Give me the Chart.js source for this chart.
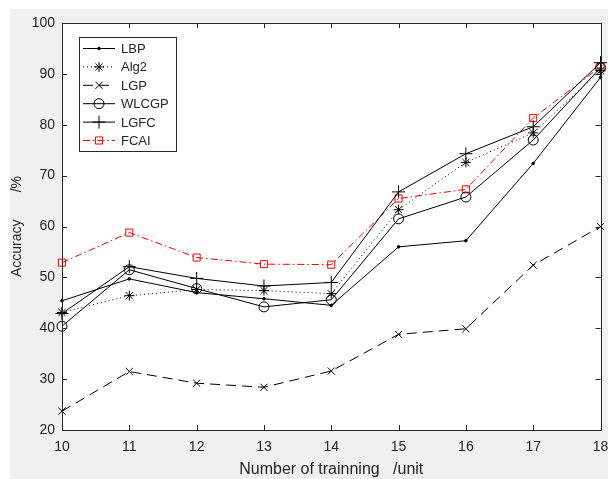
<!DOCTYPE html>
<html lang="en">
<head>
    <meta charset="UTF-8">
    <title>Accuracy</title>
    <script src="https://cdn.jsdelivr.net/npm/chart.js@4.4.1/dist/chart.umd.min.js"></script>
    <style>
        html, body { margin: 0; padding: 0; background: #f0f0f0; overflow: hidden; }
        #mychart { display: block; }
    </style>
</head>
<body>
    <canvas id="mychart" width="608" height="479"></canvas>
    <script>
        // x categories
        var trainNum = ['10', '11', '12', '13', '14', '15', '16', '17', '18'];
        var yTicks = [20, 30, 40, 50, 60, 70, 80, 90, 100];

        // series values
        var lbp   = [45.4, 49.7, 47.0, 45.8, 44.5, 56.0, 57.2, 72.4, 89.3];
        var alg2  = [43.1, 46.4, 47.6, 47.4, 46.8, 63.3, 72.6, 78.4, 90.6];
        var lgp   = [23.7, 31.5, 29.2, 28.4, 31.6, 38.8, 39.9, 52.4, 60.0];
        var wlcgp = [40.4, 51.5, 47.8, 44.2, 45.6, 61.5, 65.8, 77.0, 91.2];
        var lgfc  = [42.9, 52.1, 49.8, 48.3, 49.0, 66.8, 74.3, 79.6, 92.2];
        var fcai  = [52.9, 58.8, 53.9, 52.6, 52.5, 65.5, 67.3, 81.3, 91.4];

        var txtColor = '#262626';
        var fontFam = '"Liberation Sans", Arial, sans-serif';

        function ds(label, data, color, dash, style, radius, width) {
            return {
                label: label,
                data: data,
                borderColor: color,
                borderWidth: 1,
                borderDash: dash,
                pointStyle: style,
                pointRadius: radius,
                pointHoverRadius: radius,
                pointBorderColor: color,
                pointBackgroundColor: style == 'circle' && radius < 2 ? color : 'rgba(0,0,0,0)',
                pointBorderWidth: width,
                tension: 0,
                clip: false
            };
        }

        // gray figure, white axes, box and inward ticks like matlab
        var boxPlugin = {
            id: 'box',
            beforeDraw: function (chart) {
                var a = chart.chartArea, c = chart.ctx;
                c.save();
                c.fillStyle = '#ffffff';
                c.fillRect(0, 0, chart.width, 9);
                c.fillRect(0, 0, 10, chart.height);
                c.fillStyle = '#f0f0f0';
                c.fillRect(10, 9, chart.width - 10, chart.height - 9);
                c.fillStyle = '#ffffff';
                c.fillRect(a.left, a.top, a.right - a.left, a.bottom - a.top);
                c.restore();
            },
            afterDraw: function (chart) {
                var a = chart.chartArea, c = chart.ctx;
                c.save();
                c.strokeStyle = txtColor;
                c.lineWidth = 1;
                c.setLineDash([]);
                c.strokeRect(Math.round(a.left) + 0.5, Math.round(a.top) + 0.5,
                    Math.round(a.right - a.left), Math.round(a.bottom - a.top));
                var xs = chart.scales.x, ys = chart.scales.y;
                c.beginPath();
                xs.ticks.forEach(function (t, i) {
                    var px = Math.round(xs.getPixelForTick(i)) + 0.5;
                    c.moveTo(px, a.bottom); c.lineTo(px, a.bottom - 5);
                    c.moveTo(px, a.top); c.lineTo(px, a.top + 5);
                });
                ys.ticks.forEach(function (t, i) {
                    var py = Math.round(ys.getPixelForTick(i)) + 0.5;
                    c.moveTo(a.left, py); c.lineTo(a.left + 5, py);
                    c.moveTo(a.right, py); c.lineTo(a.right - 5, py);
                });
                c.stroke();
                c.restore();
            }
        };

        // legend box with line + marker samples
        var legendPlugin = {
            id: 'mlegend',
            afterDraw: function (chart) {
                var c = chart.ctx;
                var bx = 79.5, by = 37.5, bw = 97, bh = 114;
                c.save();
                c.fillStyle = '#ffffff';
                c.fillRect(bx, by, bw, bh);
                c.strokeStyle = txtColor;
                c.lineWidth = 1;
                c.setLineDash([]);
                c.strokeRect(bx, by, bw, bh);
                c.font = '13px ' + fontFam;
                c.textBaseline = 'middle';
                chart.data.datasets.forEach(function (d, i) {
                    var y = 48.5 + i * 18.4;
                    c.save();
                    c.strokeStyle = d.borderColor;
                    c.lineWidth = 1;
                    c.setLineDash(d.borderDash || []);
                    c.beginPath();
                    c.moveTo(83, y); c.lineTo(115, y);
                    c.stroke();
                    c.setLineDash([]);
                    c.fillStyle = d.pointBackgroundColor;
                    Chart.helpers.drawPoint(c, {
                        pointStyle: d.pointStyle,
                        radius: d.pointRadius,
                        rotation: 0,
                        borderWidth: d.pointBorderWidth
                    }, 99, y);
                    c.restore();
                    c.fillStyle = txtColor;
                    c.fillText(d.label, 121, y + 1);
                });
                c.restore();
            }
        };

        var ctx = document.getElementById('mychart');

        var mychart = new Chart(ctx, {
            type: 'line',
            data: {
                labels: trainNum,
                datasets: [
                    ds('LBP', lbp, '#000000', [], 'circle', 1.3, 1),
                    ds('Alg2', alg2, '#000000', [1, 3], 'star', 5, 1),
                    ds('LGP', lgp, '#000000', [10, 6], 'crossRot', 5, 1),
                    ds('WLCGP', wlcgp, '#000000', [], 'circle', 5, 1),
                    ds('LGFC', lgfc, '#000000', [], 'cross', 6.5, 1),
                    ds('FCAI', fcai, '#ff0000', [7, 3, 1.5, 3], 'rect', 5, 1)
                ]
            },
            options: {
                responsive: false,
                animation: false,
                events: [],
                layout: { padding: { left: 0, right: 7, top: 23, bottom: 0 } },
                plugins: {
                    legend: { display: false },
                    tooltip: { enabled: false }
                },
                elements: { point: { hitRadius: 0 } },
                scales: {
                    x: {
                        offset: false,
                        grid: { display: false, drawTicks: false },
                        border: { display: false },
                        ticks: {
                            color: txtColor,
                            font: { family: fontFam, size: 14 },
                            padding: 9,
                            maxRotation: 0,
                            autoSkip: false
                        },
                        title: {
                            display: true,
                            text: 'Number of trainning   /unit',
                            color: txtColor,
                            font: { family: fontFam, size: 16 },
                            padding: { top: 2, bottom: 0 }
                        },
                        afterFit: function (scale) {
                            scale.height = 49;
                            scale.paddingLeft = 0;
                            scale.paddingRight = 0;
                        }
                    },
                    y: {
                        min: 20,
                        max: 100,
                        afterBuildTicks: function (scale) {
                            scale.ticks = yTicks.map(function (v) { return { value: v }; });
                        },
                        grid: { display: false, drawTicks: false },
                        border: { display: false },
                        ticks: {
                            color: txtColor,
                            font: { family: fontFam, size: 14 },
                            padding: 7
                        },
                        title: {
                            display: true,
                            text: 'Accuracy       /%',
                            color: txtColor,
                            font: { family: fontFam, size: 14 },
                            padding: { top: 9, bottom: 0 }
                        },
                        afterFit: function (scale) {
                            scale.width = 62;
                            scale.paddingTop = 0;
                            scale.paddingBottom = 0;
                        }
                    }
                }
            },
            plugins: [boxPlugin, legendPlugin]
        });
    </script>
</body>
</html>
